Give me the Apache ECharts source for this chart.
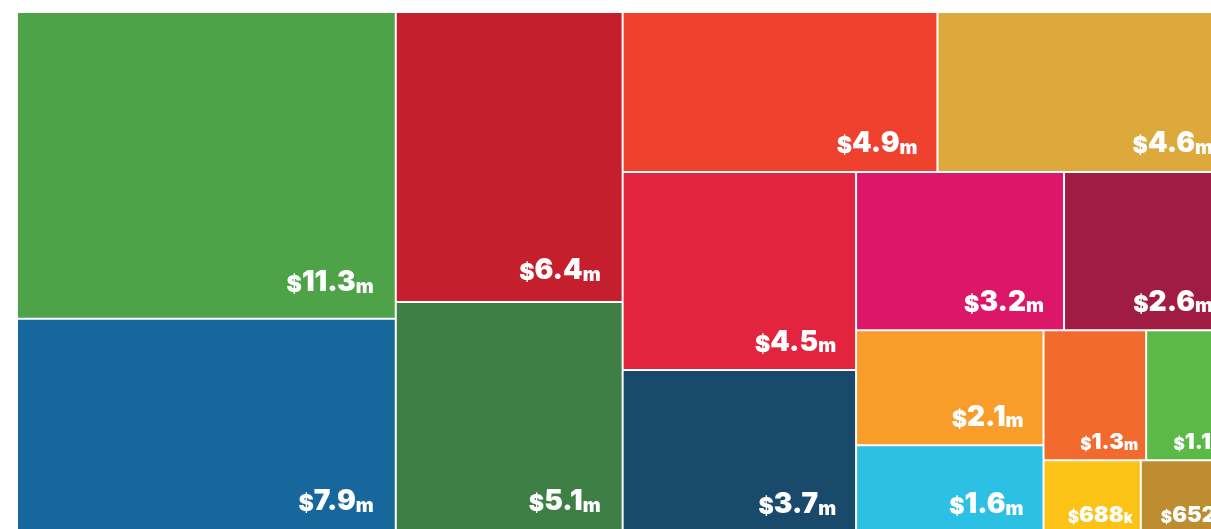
<!DOCTYPE html>
<html>
<head>
<meta charset="utf-8">
<title>Funding by SDG</title>
<script src="https://cdn.jsdelivr.net/npm/echarts@6/dist/echarts.min.js"></script>
<style>
  html, body { margin: 0; padding: 0; background: #fff; }
  #main { width: 1211px; height: 529px; }
</style>
</head>
<body>
<div id="main"></div>
<script>
// 数据: 每个目标的资金 (单位 $m), 按从大到小排列
const goalNames = ['SDG 3', 'SDG 16', 'SDG 4', 'SDG 13', 'SDG 5', 'SDG 2', 'SDG 1', 'SDG 17',
  'SDG 10', 'SDG 8', 'SDG 11', 'SDG 6', 'SDG 9', 'SDG 15', 'SDG 7', 'SDG 12']
const fundingM = [11.3, 7.9, 6.4, 5.1, 4.9, 4.6, 4.5, 3.7, 3.2, 2.6, 2.1, 1.6, 1.3, 1.1, 0.688, 0.652]
const goalColors = ['#4ea247', '#17679c', '#c51f2e', '#3e7f45', '#ef412d', '#dda83c', '#e3243f', '#194a6b',
  '#dc1769', '#a11c44', '#f99d2a', '#2bc0e4', '#f26a2d', '#5bba47', '#fcc316', '#be8c31']

// 标签离右下角的距离, 按方块大小分档
function labelOffset(v) {
  if (v >= 10) return [-16, -54]
  if (v >= 5) return [-16, -49]
  if (v >= 1.5) return [-14, -46]
  return [-2, -33]
}

// 两两成组, 再逐层嵌套, 让 treemap 按参考图的条带方向排列
function leaf(i) {
  return {
    name: goalNames[i],
    value: fundingM[i],
    itemStyle: { color: goalColors[i], borderWidth: 1, borderColor: '#fff' },
    label: { offset: labelOffset(fundingM[i]) }
  }
}
function pair(k) {
  return { name: 'pair' + k, children: [leaf(2 * k), leaf(2 * k + 1)] }
}
function nest(k) {
  if (k === 6) return [pair(6), pair(7)]
  return [pair(k), { name: 'rest' + k, children: nest(k + 1) }]
}

function valueText(v) {
  let num = v < 1 ? String(Math.round(v * 1000)) : v.toFixed(1)
  let unit = v < 1 ? 'k' : 'm'
  let t = v < 1.5 ? '2' : ''
  return `{s${t}|$}{n${t}|${num}}{u${t}|${unit}}`
}

function tok(size) {
  return { fontSize: size, lineHeight: size, fontWeight: 900, fontFamily: 'Inter', color: '#fff', verticalAlign: 'bottom' }
}

var myChart = echarts.init(document.getElementById('main'))

var option = {
  animation: false,
  series: [
    {
      type: 'treemap',
      left: 17,
      top: 12,
      width: 1216,
      height: 521,
      sort: false,
      squareRatio: 1.2,
      roam: false,
      nodeClick: false,
      breadcrumb: { show: false },
      itemStyle: { borderWidth: 0, gapWidth: 0, borderColor: '#fff' },
      upperLabel: { show: false },
      label: {
        show: true,
        position: ['100%', '100%'],
        align: 'right',
        verticalAlign: 'top',
        color: '#fff',
        fontFamily: 'Inter',
        fontWeight: 900,
        formatter: function (p) { return valueText(p.value) },
        rich: {
          s: tok(23), n: tok(28), u: tok(19),
          s2: tok(17), n2: tok(22), u2: tok(15)
        }
      },
      emphasis: { disabled: true },
      data: nest(0)
    }
  ]
}

myChart.setOption(option)
</script>
</body>
</html>
